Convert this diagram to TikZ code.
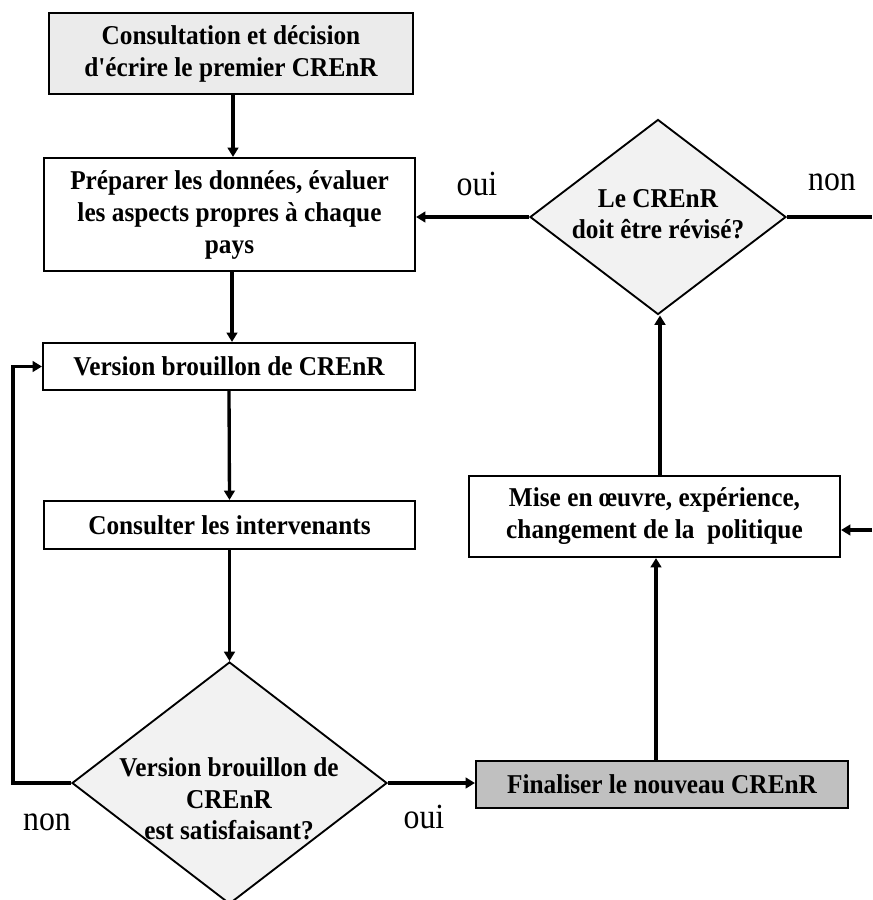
\documentclass[tikz,border=0pt]{standalone}
\usepackage{fontspec}
\setmainfont{Liberation Serif}
\newfontfamily\bxfont{Liberation Serif}[FakeStretch=0.93]
\newfontfamily\labfont{Liberation Serif}[FakeStretch=0.9]
\usetikzlibrary{shapes.geometric,arrows.meta}
\begin{document}
\begin{tikzpicture}[x=0.75pt,y=-0.75pt,
  stepbox/.style={draw,rectangle,line width=1.6pt,inner sep=0pt,align=center,
    font=\bxfont\fontsize{20.4}{24}\selectfont\bfseries},
  decbox/.style={draw,diamond,line width=1.4pt,inner sep=0pt,fill=diafill},
  dectext/.style={align=center,font=\bxfont\fontsize{20.4}{23.5}\selectfont\bfseries},
  lab/.style={font=\labfont\fontsize{26.5}{30}\selectfont,anchor=base,inner sep=0pt},
  arr/.style={line width=2.5pt,-{Triangle[length=7pt,width=8pt]}},
  conn/.style={line width=2.8pt}]
\definecolor{topfill}{HTML}{EBEBEB}
\definecolor{diafill}{HTML}{F2F2F2}
\definecolor{finfill}{HTML}{C0C0C0}
\useasboundingbox (0,0) rectangle (872,900);
\begin{scope}
\clip (0,0) rectangle (872,900);
% nodes
\node[stepbox,fill=topfill,minimum width=364*0.75pt,minimum height=81*0.75pt] (top) at (231,53.5)
  {Consultation et décision\\d'écrire le premier CREnR};
\node[stepbox,minimum width=371*0.75pt,minimum height=113*0.75pt] (prep) at (229.5,214.5)
  {Préparer les données, évaluer\\les aspects propres à chaque\\pays};
\node[stepbox,minimum width=372*0.75pt,minimum height=47*0.75pt] (draft) at (229,366.5)
  {Version brouillon de CREnR};
\node[stepbox,minimum width=371*0.75pt,minimum height=48*0.75pt] (cons) at (229.5,525)
  {Consulter les intervenants};
\node[decbox,minimum width=315*0.75pt,minimum height=242*0.75pt] (sat) at (229.5,783) {};
\node[dectext] (sattext) at (229,799) {Version brouillon de\\CREnR\\est satisfaisant?};
\node[stepbox,fill=finfill,minimum width=372*0.75pt,minimum height=47*0.75pt] (fin) at (662,784.5)
  {Finaliser le nouveau CREnR};
\node[stepbox,minimum width=371*0.75pt,minimum height=81*0.75pt] (mise) at (654.5,516.5)
  {Mise en œuvre, expérience,\\changement de la\ \ politique};
\node[decbox,minimum width=256*0.75pt,minimum height=195*0.75pt] (rev) at (658,217) {};
\node[dectext] (revtext) at (658,214) {Le CREnR\\doit être révisé?};
% coordinates
\coordinate (loopA) at (13,783);
\coordinate (loopB) at (13,366.5);
\coordinate (nonEnd) at (872,217);
\coordinate (inStart) at (872,530);
% connectors
\draw[arr] (top.south -| 233,0) -- (prep.north -| 233,0);
\draw[arr] (prep.south -| 232,0) -- (draft.north -| 232,0);
\draw[arr] (draft.south) -- (cons.north);
\draw[arr] (cons.south) -- (sat.north);
\draw[arr] (sat.west) -- (loopA) -- (loopB) -- (draft.west);
\draw[arr] (sat.east) -- (fin.west |- sat.east);
\draw[arr] (fin.north -| 656,0) -- (mise.south -| 656,0);
\draw[arr] (mise.north -| 660,0) -- (rev.south -| 660,0);
\draw[arr] (rev.west) -- (prep.east |- rev.west);
\draw[conn] (rev.east) -- (nonEnd);
\draw[arr] (inStart) -- (mise.east |- inStart);
% labels
\node[lab] (oui1) at (477,195) {oui};
\node[lab] (non1) at (832,190) {non};
\node[lab] (non2) at (47,830) {non};
\node[lab] (oui2) at (424,828) {oui};
\end{scope}
\end{tikzpicture}
\end{document}
